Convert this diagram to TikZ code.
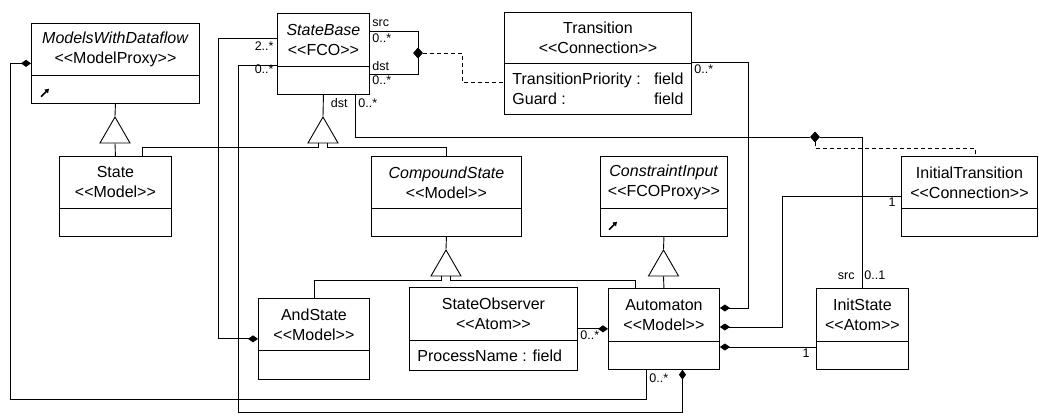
\documentclass[tikz,border=0pt]{standalone}
\usepackage{fontspec}
\newfontfamily\umlfont{Liberation Sans}
\usetikzlibrary{shapes, arrows.meta}

\newcommand{\hd}[3]{\parbox[c][#2pt][c]{#1pt}{\centering #3}}
\newcommand{\bd}[3]{\parbox[c][#2pt][c]{#1pt}{\hspace*{8pt}\parbox{\dimexpr#1pt-16pt\relax}{#3}}}

\begin{document}
\begin{tikzpicture}[x=1pt,y=-1pt,line width=0.9pt,
    class/.style={rectangle split,rectangle split parts=2,draw,inner sep=0pt,
                  anchor=north west,font=\umlfont\fontsize{16}{20}\selectfont},
    gen/.style={regular polygon,regular polygon sides=3,draw,fill=white,
                inner sep=0pt,minimum size=34.6pt},
    junction/.style={diamond,draw,fill,inner sep=0pt,minimum width=9pt,minimum height=10pt},
    comp/.style={-{Diamond[length=10pt,width=7pt]}},
    link/.style={dash pattern=on 4pt off 3pt},
    proxy/.style={-{Triangle[length=4pt,width=5pt]},line width=1.5pt},
    mult/.style={inner sep=0pt,font=\umlfont\fontsize{12.5}{14}\selectfont}]

  \path[use as bounding box,fill=white] (0,0) rectangle (1039,416);

  \node[class] (mwd) at (31,23) {\hd{168}{51}{\textit{ModelsWithDataflow}\\<<ModelProxy>>}\nodepart{two}\bd{168}{27}{}};
  \node[class] (sb) at (277,13) {\hd{92}{52}{\textit{StateBase}\\<<FCO>>}\nodepart{two}\bd{92}{27}{}};
  \node[class] (tr) at (504,12) {\hd{187}{50}{Transition\\<<Connection>>}\nodepart{two}\bd{187}{50}{TransitionPriority :\hfill field\\Guard :\hfill field}};
  \node[class] (st) at (59,156) {\hd{112}{51}{State\\<<Model>>}\nodepart{two}\bd{112}{27}{}};
  \node[class] (cs) at (371,156) {\hd{150}{51}{\textit{CompoundState}\\<<Model>>}\nodepart{two}\bd{150}{27}{}};
  \node[class] (ci) at (600,156) {\hd{127}{51}{\textit{ConstraintInput}\\<<FCOProxy>>}\nodepart{two}\bd{127}{27}{}};
  \node[class] (it) at (901,156) {\hd{136}{51}{InitialTransition\\<<Connection>>}\nodepart{two}\bd{136}{27}{}};
  \node[class] (as) at (258,298) {\hd{111}{51}{AndState\\<<Model>>}\nodepart{two}\bd{111}{28}{}};
  \node[class] (so) at (409,287) {\hd{168}{52}{StateObserver\\<<Atom>>}\nodepart{two}\bd{168}{29}{ProcessName : field}};
  \node[class] (aut) at (608,288) {\hd{111}{52}{Automaton\\<<Model>>}\nodepart{two}\bd{111}{27}{}};
  \node[class] (is) at (816,288) {\hd{92}{52}{InitState\\<<Atom>>}\nodepart{two}\bd{92}{27}{}};

  \node[gen] (gmwd) at (115,134.3) {};
  \node[gen] (gsb) at (323,134.3) {};
  \node[gen] (gcs) at (446,267.3) {};
  \node[gen] (gci) at (663.5,267.3) {};

  \node[junction] (jtr) at (418,53) {};
  \node[junction] (jit) at (815,137) {};

  \draw (mwd.south) -- (gmwd.north);
  \draw (gmwd.south) -- (st.north);
  \draw (sb.south) -- (gsb.north);
  \draw ([xshift=-5pt]gsb.south) -- ++(0,4) -| ([xshift=27pt]st.north);
  \draw ([xshift=4pt]gsb.south) -- ++(0,4) -| (cs.north);
  \draw (cs.south) -- (gcs.north);
  \draw ([xshift=-5pt]gcs.south) -- ++(0,4) -| (as.north);
  \draw ([xshift=4pt]gcs.south) -- ++(0,4) -| ([xshift=-28.5pt]aut.north);
  \draw (ci.south) -- (gci.north);
  \draw (gci.south) -- (aut.north);

  \draw ([yshift=-18pt]sb.north east) -| (jtr.north);
  \draw ([yshift=-61pt]sb.north east) -| (jtr.south);
  \draw[link] (jtr.east) -- ++(39.5,0) |- ([yshift=-70pt]tr.north west);

  \draw ([xshift=32pt]sb.south) |- (jit.west);
  \draw (jit.east) -| (is.north);
  \draw[link] (jit.south) |- ([xshift=6pt,yshift=8pt]it.north) -- ([xshift=6pt]it.north);

  \draw[comp] ([yshift=-25pt]sb.north west) -- ++(-59,0) |- (as.west);
  \draw[comp] ([yshift=-52pt]sb.north west) -| ++(-39,347) -| ([xshift=18.5pt]aut.south);
  \draw[comp] ([xshift=-17.5pt]aut.south) |- ++(-636,30) |- (mwd.west);
  \draw[comp] ([yshift=-50pt]tr.north east) -- ++(57,0) |- ([yshift=-20pt]aut.north east);
  \draw[comp] (it.west) -- ++(-119,0) |- ([yshift=-39pt]aut.north east);
  \draw[comp] ([yshift=-59pt]is.north west) -- ([yshift=-59pt]aut.north east);
  \draw[comp] (so.east) -- (aut.west);

  \draw[proxy] ([xshift=10pt,yshift=7pt]mwd.south west) -- ++(8,-8);
  \draw[proxy] ([xshift=9pt,yshift=7pt]ci.south west) -- ++(8,-8);

  \node[mult,anchor=base east] (sbl1) at (274,50) {2..*};
  \node[mult,anchor=base east] (sbl2) at (274,73) {0..*};
  \node[mult,anchor=base west] (sbr1) at (372,26) {src};
  \node[mult,anchor=base west] (sbr2) at (372,42) {0..*};
  \node[mult,anchor=base west] (sbr3) at (372,70) {dst};
  \node[mult,anchor=base west] (sbr4) at (372,84) {0..*};
  \node[mult,anchor=base east] (sbb1) at (348,107) {dst};
  \node[mult,anchor=base west] (sbb2) at (358,107) {0..*};
  \node[mult,anchor=base west] (trm) at (694,73) {0..*};
  \node[mult,anchor=base east] (itm) at (896,206) {1};
  \node[mult,anchor=base east] (is1) at (855,279) {src};
  \node[mult,anchor=base west] (is2) at (864,279) {0..1};
  \node[mult,anchor=base east] (is3) at (810,357) {1};
  \node[mult,anchor=base west] (som) at (580,339) {0..*};
  \node[mult,anchor=base west] (autm) at (649,382) {0..*};
\end{tikzpicture}
\end{document}
